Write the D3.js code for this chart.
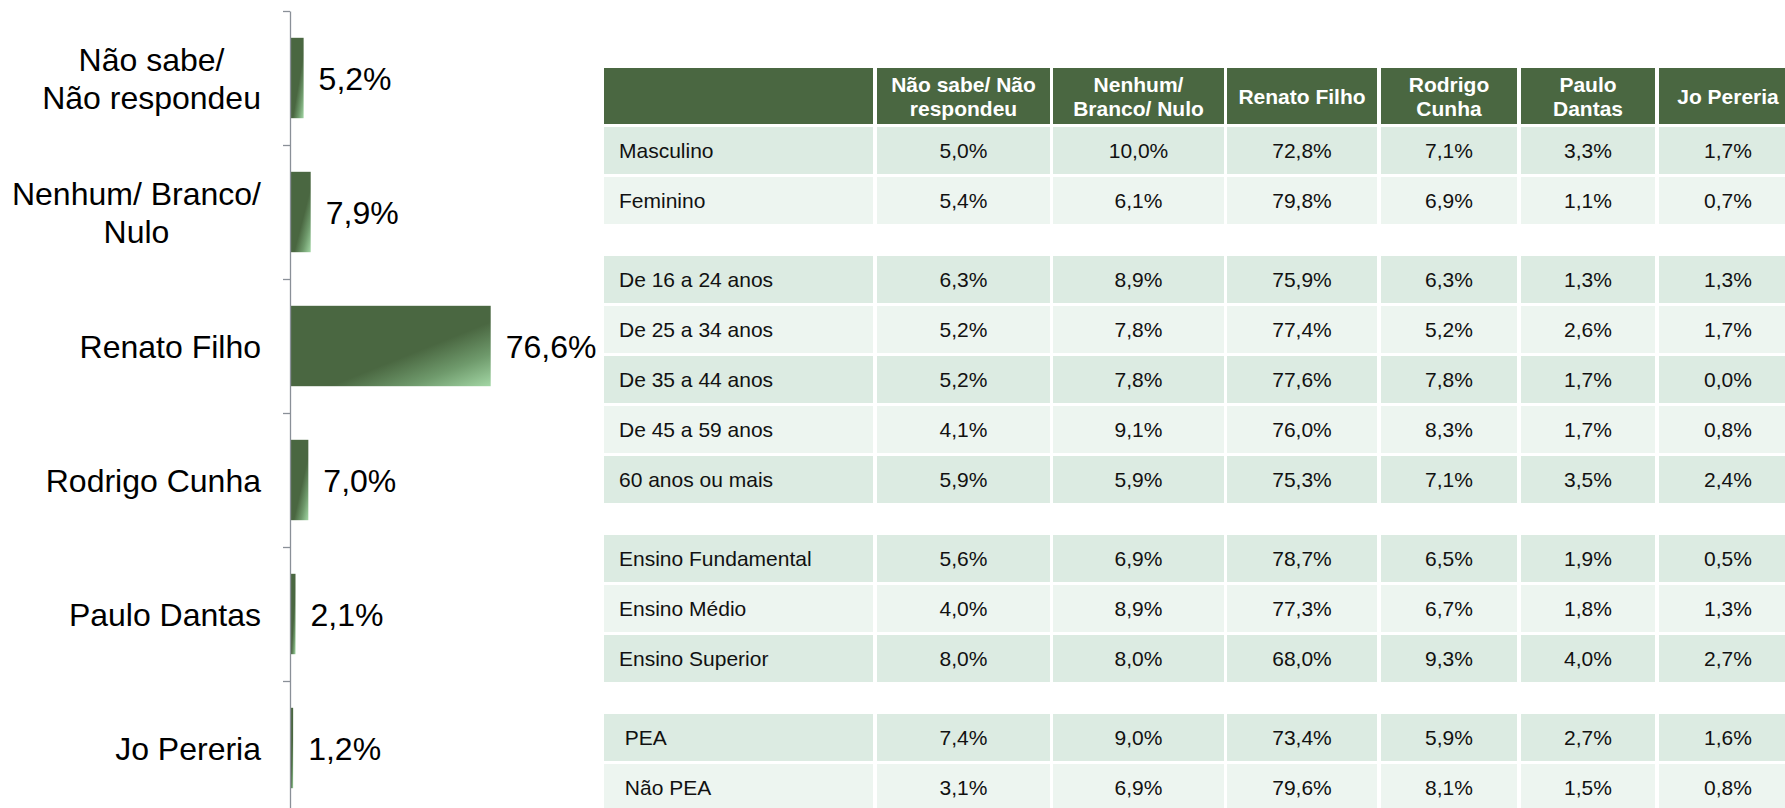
<!DOCTYPE html>
<html>
<head>
<meta charset="utf-8">
<title>Intenção de voto</title>
<script src="https://d3js.org/d3.v7.min.js"></script>
<style>
  body { margin: 0; background: #fff; }
  svg { display: block; font-family: "Liberation Sans", Arial, sans-serif; }
</style>
</head>
<body>
<div id="chart"></div>
<script>
// left bar chart
const categories = ["Não sabe/\nNão respondeu", "Nenhum/ Branco/\nNulo", "Renato Filho", "Rodrigo Cunha", "Paulo Dantas", "Jo Pereria"];
const totals = [5.2, 7.9, 76.6, 7.0, 2.1, 1.2];

// table on the right
const tableHeaders = ["Não sabe/ Não\nrespondeu", "Nenhum/\nBranco/ Nulo", "Renato Filho", "Rodrigo\nCunha", "Paulo\nDantas", "Jo Pereria"];
const rowLabels = ["Masculino", "Feminino", "De 16 a 24 anos", "De 25 a 34 anos", "De 35 a 44 anos", "De 45 a 59 anos", "60 anos ou mais",
                   "Ensino Fundamental", "Ensino Médio", "Ensino Superior", " PEA", " Não PEA"];
const rowGroups = [0, 0, 1, 1, 1, 1, 1, 2, 2, 2, 3, 3];
const rowValues = [
  [5.0, 10.0, 72.8, 7.1, 3.3, 1.7],
  [5.4, 6.1, 79.8, 6.9, 1.1, 0.7],
  [6.3, 8.9, 75.9, 6.3, 1.3, 1.3],
  [5.2, 7.8, 77.4, 5.2, 2.6, 1.7],
  [5.2, 7.8, 77.6, 7.8, 1.7, 0.0],
  [4.1, 9.1, 76.0, 8.3, 1.7, 0.8],
  [5.9, 5.9, 75.3, 7.1, 3.5, 2.4],
  [5.6, 6.9, 78.7, 6.5, 1.9, 0.5],
  [4.0, 8.9, 77.3, 6.7, 1.8, 1.3],
  [8.0, 8.0, 68.0, 9.3, 4.0, 2.7],
  [7.4, 9.0, 73.4, 5.9, 2.7, 1.6],
  [3.1, 6.9, 79.6, 8.1, 1.5, 0.8]
];

const width = 1785, height = 808;
const green = "#4a6741";
const fmt = d3.formatLocale({decimal: ",", thousands: ".", grouping: [3], currency: ["R$", ""]}).format(".1f");
const pct = v => fmt(v) + "%";

const svg = d3.select("#chart").append("svg")
    .attr("width", width)
    .attr("height", height);

// gradient like the office bar fill
const grad = svg.append("defs").append("linearGradient")
    .attr("id", "barGrad")
    .attr("x1", 0).attr("y1", 0).attr("x2", 1).attr("y2", 1);
grad.selectAll("stop")
    .data([{o: 0, c: green}, {o: 0.6, c: green}, {o: 0.8, c: "#6f9a6c"}, {o: 1, c: "#a3d7a5"}])
    .join("stop")
    .attr("offset", d => d.o)
    .attr("stop-color", d => d.c);

// ---- bar chart ----
const axisX = 290, plotTop = 11, plotBottom = 815;
const yScale = d3.scaleBand()
    .domain(categories)
    .range([plotTop, plotBottom])
    .paddingInner(0.4)
    .paddingOuter(0.2);
const yEdge = d3.scaleLinear().domain([0, categories.length]).range([plotTop, plotBottom]);
const xScale = d3.scaleLinear().domain([0, 100]).range([0, 262]);

const chart = svg.append("g").attr("transform", `translate(${axisX},0)`);

chart.selectAll(".bar")
    .data(totals)
    .join("rect")
    .attr("class", "bar")
    .attr("x", 0)
    .attr("y", (d, i) => yScale(categories[i]))
    .attr("width", d => xScale(d))
    .attr("height", yScale.bandwidth())
    .attr("fill", "url(#barGrad)");

const yAxis = chart.append("g")
    .call(d3.axisLeft(yEdge).tickValues(d3.range(categories.length + 1)).tickFormat("").tickSize(7).tickSizeOuter(0));
yAxis.selectAll("path, line").attr("stroke", "#8a9098").attr("stroke-width", 1.3);

chart.selectAll(".val")
    .data(totals)
    .join("text")
    .attr("class", "val")
    .attr("x", d => xScale(d) + 15)
    .attr("y", (d, i) => yScale(categories[i]) + yScale.bandwidth() / 2)
    .attr("dy", "0.36em")
    .attr("font-size", 32)
    .attr("fill", "#000")
    .text(d => pct(d));

const catLabels = chart.selectAll(".cat")
    .data(categories)
    .join("text")
    .attr("class", "cat")
    .attr("text-anchor", "end")
    .attr("font-size", 32)
    .attr("fill", "#000");
catLabels.each(function(d) {
    const lines = d.split("\n");
    const t = d3.select(this);
    const cy = yScale(d) + yScale.bandwidth() / 2;
    lines.forEach((ln, k) => {
        t.append("tspan")
            .attr("x", -29)
            .attr("y", cy + (k - (lines.length - 1) / 2) * 38)
            .attr("dy", "0.36em")
            .text(ln);
    });
});
// two-line labels are centered on their own lines
catLabels.filter(d => d.includes("\n")).each(function(d) {
    const t = d3.select(this);
    const w = this.getBBox().width;
    t.attr("text-anchor", "middle");
    t.selectAll("tspan").attr("x", -29 - w / 2);
});

// ---- table ----
const colX = [604, 877, 1053, 1227, 1381, 1521, 1659];
const colW = [269, 173, 171, 150, 136, 134, 138];
const headTop = 68, headH = 56, rowTop = 127, rowStep = 50, rowH = 47, groupGap = 29;
const rowY = i => rowTop + i * rowStep + rowGroups[i] * groupGap;

const table = svg.append("g");

// header
table.selectAll(".hcell")
    .data(d3.range(colX.length))
    .join("rect")
    .attr("class", "hcell")
    .attr("x", i => colX[i])
    .attr("y", headTop)
    .attr("width", i => colW[i])
    .attr("height", headH)
    .attr("fill", green);

table.selectAll(".htext")
    .data(tableHeaders)
    .join("text")
    .attr("class", "htext")
    .attr("text-anchor", "middle")
    .attr("font-size", 21)
    .attr("font-weight", "bold")
    .attr("fill", "#fff")
    .each(function(d, i) {
        const lines = d.split("\n");
        const cx = colX[i + 1] + colW[i + 1] / 2;
        lines.forEach((ln, k) => {
            d3.select(this).append("tspan")
                .attr("x", cx)
                .attr("y", headTop + headH / 2 + (k - (lines.length - 1) / 2) * 24)
                .attr("dy", "0.36em")
                .text(ln);
        });
    });

// body rows
const rows = table.selectAll(".row")
    .data(rowValues)
    .join("g")
    .attr("class", "row")
    .attr("transform", (d, i) => `translate(0,${rowY(i)})`);

rows.each(function(vals, i) {
    const g = d3.select(this);
    // alternate shading restarts in each block
    const firstInGroup = rowGroups.indexOf(rowGroups[i]);
    const fill = (i - firstInGroup) % 2 === 0 ? "#dcebe2" : "#edf5f0";
    g.selectAll("rect")
        .data(colX)
        .join("rect")
        .attr("x", (d, k) => colX[k])
        .attr("y", 0)
        .attr("width", (d, k) => colW[k])
        .attr("height", rowH)
        .attr("fill", fill);
    g.append("text")
        .attr("x", colX[0] + 15)
        .attr("y", rowH / 2)
        .attr("dy", "0.36em")
        .attr("font-size", 21)
        .attr("fill", "#111")
        .style("white-space", "pre")
        .text(rowLabels[i]);
    g.selectAll(".v")
        .data(vals)
        .join("text")
        .attr("class", "v")
        .attr("x", (d, k) => colX[k + 1] + colW[k + 1] / 2)
        .attr("y", rowH / 2)
        .attr("dy", "0.36em")
        .attr("text-anchor", "middle")
        .attr("font-size", 21)
        .attr("fill", "#111")
        .text(d => pct(d));
});
</script>
</body>
</html>
